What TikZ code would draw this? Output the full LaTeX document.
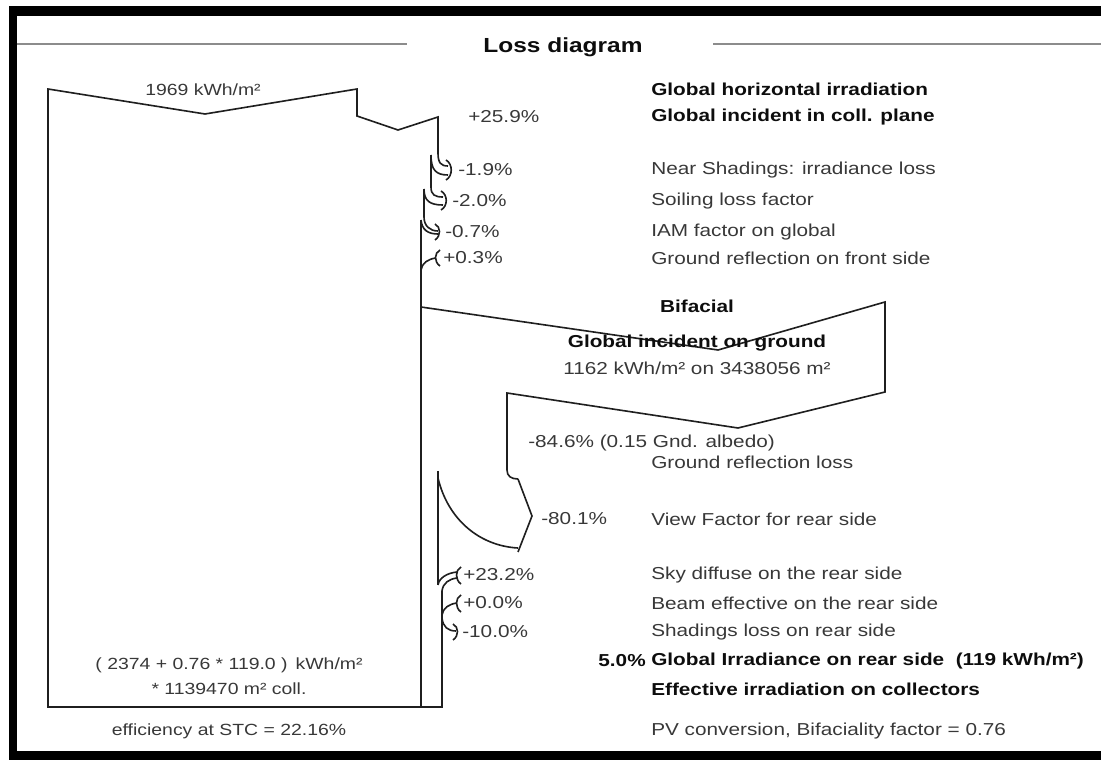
\documentclass[tikz,border=0pt]{standalone}
\usepackage{fontspec}
\setmainfont[FakeStretch=1.2]{Liberation Sans}
\usepackage{tikz}
\usetikzlibrary{arrows.meta,calc,positioning}
\tikzset{
  line cap=round,
  line join=round,
  flow/.style={draw=black!88, line width=1.15pt},
  frame/.style={fill=black},
  rule/.style={draw=black!45, line width=1.2pt},
  lbl/.style={anchor=west, inner sep=0pt, text=black!78, font=\fontsize{12.3}{14}\selectfont},
  blbl/.style={lbl, text=black!95, font=\fontsize{12.3}{14}\selectfont\bfseries},
  mid/.style={anchor=center, inner sep=0pt, text=black!78, font=\fontsize{11.5}{13}\selectfont},
  title/.style={inner sep=0pt, text=black!95, font=\fontsize{14.5}{16}\selectfont\bfseries}
}

\begin{document}
\begin{tikzpicture}[x=0.025cm, y=-0.025cm]
	\useasboundingbox (0,0) rectangle (1101,760);
	% Draw the frame
	\fill[frame] (9,6) rectangle (1101,16);
	\fill[frame] (9,6) rectangle (17,760);
	\fill[frame] (9,751) rectangle (1101,760);

	% title and its rules
	\node[title] (title) at (563,47) {Loss diagram};
	\draw[rule] (17,44) -- (407,44);
	\draw[rule] (713,44) -- (1101,44);

	% front side: horizontal, then incident in plane
	\draw[flow] (421,707) -- (48,707) -- (48,89) -- (205,114) -- (357,89) -- (357,116)
		-- (398,130) -- (438,117) -- (438,153);
	% -1.9% near shadings
	\draw[flow] (438,153) .. controls (438,163) and (441,166) .. (448,166);
	\draw[flow] (431,155) .. controls (431,170) and (436,175) .. (448,175);
	\draw[flow] (446,160) .. controls (453,164) and (453,176) .. (446,180);
	\draw[flow] (431,155) -- (431,187);
	% -2.0% soiling
	\draw[flow] (431,187) .. controls (431,195) and (435,197) .. (443,197);
	\draw[flow] (424,189) .. controls (424,201) and (430,205) .. (443,205);
	\draw[flow] (441,191) .. controls (448,195) and (448,206) .. (441,210);
	\draw[flow] (424,189) -- (424,217);
	% -0.7% IAM
	\draw[flow] (424,217) .. controls (424,226) and (430,231) .. (438,231);
	\draw[flow] (421,220) .. controls (422,230) and (428,234) .. (438,234);
	\draw[flow] (435,224) .. controls (441,227) and (441,236) .. (435,240);
	% +0.3% ground reflection on front side
	\draw[flow] (440,250) .. controls (434,253) and (434,262) .. (440,266);
	\draw[flow] (436,258) .. controls (428,259) and (422,263) .. (421,270);
	\draw[flow] (421,220) -- (421,707);

	% bifacial: incident on ground and ground reflection
	\draw[flow] (421,307) -- (718,350) -- (885,302) -- (885,392) -- (738,428) -- (507,393) -- (507,470)
		.. controls (507,476) and (511,479) .. (518,479);
	% -80.1% view factor
	\draw[flow] (518,479) -- (532,516) -- (518,552);
	\draw[flow] (438,478) .. controls (448,520) and (480,546) .. (518,548);

	% rear side column
	\draw[flow] (438,471) -- (438,585);
	% +23.2% sky diffuse
	\draw[flow] (461,567) .. controls (455,570) and (455,580) .. (461,584);
	\draw[flow] (457,572) .. controls (447,573) and (439,578) .. (438,585);
	\draw[flow] (457,578) .. controls (449,579) and (443,583) .. (442,591);
	% +0.0% beam effective
	\draw[flow] (461,595) .. controls (455,598) and (455,608) .. (461,612);
	\draw[flow] (457,603) .. controls (449,604) and (443,608) .. (442,615);
	% -10.0% shadings on rear side
	\draw[flow] (442,618) .. controls (443,627) and (448,631) .. (456,631);
	\draw[flow] (453,624) .. controls (459,627) and (459,636) .. (453,640);
	\draw[flow] (442,591) -- (442,707) -- (421,707);

	% left hand texts
	\node[mid] (ghi) at (203,90) {1969 kWh/m²};
	\node[mid] (effsum) at (229,665) {( 2374 + 0.76 * 119.0 )\, kWh/m²};
	\node[mid] (area) at (229,689) {* 1139470 m² coll.};
	\node[mid] (stc) at (229,731) {efficiency at STC = 22.16\%};

	% percentages
	\node[lbl] (p1) at (468,117) {+25.9\%};
	\node[lbl] (p2) at (458,170) {-1.9\%};
	\node[lbl] (p3) at (452,201) {-2.0\%};
	\node[lbl] (p4) at (445,232) {-0.7\%};
	\node[lbl] (p5) at (443,258) {+0.3\%};
	\node[lbl] (p6) at (528,443) {-84.6\% (0.15 Gnd. albedo)};
	\node[lbl] (p7) at (541,519) {-80.1\%};
	\node[lbl] (p8) at (463,575) {+23.2\%};
	\node[lbl] (p9) at (463,603) {+0.0\%};
	\node[lbl] (p10) at (462,632) {-10.0\%};
	\node[blbl, anchor=east] (p11) at (646,661) {5.0\%};

	% right hand texts
	\node[blbl] (t1) at (651,89) {Global horizontal irradiation};
	\node[blbl] (t2) at (651,117) {Global incident in coll. plane};
	\node[lbl] (t3) at (651,170) {Near Shadings: irradiance loss};
	\node[lbl] (t4) at (651,201) {Soiling loss factor};
	\node[lbl] (t5) at (651,232) {IAM factor on global};
	\node[lbl] (t6) at (651,258) {Ground reflection on front side};
	\node[blbl, anchor=center] (bif) at (697,306) {Bifacial};
	\node[blbl, anchor=center] (gnd) at (697,343) {Global incident on ground};
	\node[lbl, anchor=center] (gndval) at (697,368) {1162 kWh/m² on 3438056 m²};
	\node[lbl] (t7) at (651,462) {Ground reflection loss};
	\node[lbl] (t8) at (651,519) {View Factor for rear side};
	\node[lbl] (t9) at (651,575) {Sky diffuse on the rear side};
	\node[lbl] (t10) at (651,603) {Beam effective on the rear side};
	\node[lbl] (t11) at (651,632) {Shadings loss on rear side};
	\node[blbl] (t12) at (651,661) {Global Irradiance on rear side\ \ (119 kWh/m²)};
	\node[blbl] (t13) at (651,689) {Effective irradiation on collectors};
	\node[lbl] (t14) at (651,731) {PV conversion, Bifaciality factor = 0.76};
\end{tikzpicture}
\end{document}
